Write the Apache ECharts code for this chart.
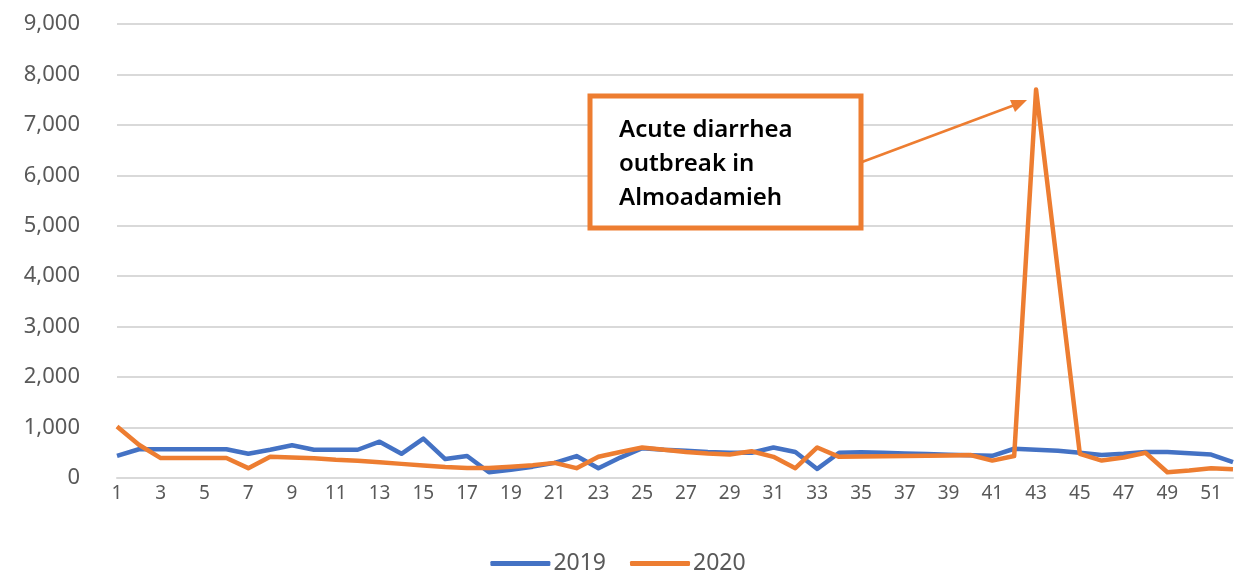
<!DOCTYPE html>
<html>
<head>
<meta charset="utf-8">
<script src="https://cdn.jsdelivr.net/npm/echarts@6/dist/echarts.min.js"></script>
<style>
html,body{margin:0;padding:0;background:#fff;}
#chart{width:1236px;height:573px;}
</style>
</head>
<body>
<div id="chart"></div>
<script>
const weeks = Array.from({length: 52}, (_, i) => String(i + 1));
const yTicks = [0, 1000, 2000, 3000, 4000, 5000, 6000, 7000, 8000, 9000];
const series2019 = [440, 570, 570, 570, 570, 570, 480, 560, 650, 560,
                    560, 560, 720, 480, 780, 375, 435, 115, 165, 225,
                    300, 435, 195, 405, 590, 560, 540, 515, 500, 500,
                    605, 515, 180, 500, 510, 500, 485, 475, 460, 450,
                    440, 580, 560, 540, 500, 455, 480, 515, 515, 490,
                    465, 315];
const series2020 = [1020, 660, 395, 395, 395, 395, 195, 420, 405, 390,
                    360, 340, 310, 280, 250, 220, 200, 200, 225, 255,
                    300, 195, 420, 515, 605, 560, 515, 485, 465, 530,
                    420, 195, 605, 420, 425, 430, 435, 440, 445, 455,
                    345, 435, 7700, 4100, 480, 345, 405, 500, 115, 150,
                    195, 175];
const annotationText = 'Acute diarrhea\noutbreak in\nAlmoadamieh';

const chart = echarts.init(document.getElementById('chart'));
const font = '"Noto Sans", "Open Sans", sans-serif';
chart.setOption({
  animation: false,
  grid: {left: 117, right: 3, top: 24, bottom: 95},
  xAxis: {
    type: 'category',
    data: weeks,
    boundaryGap: false,
    axisLine: {show: true, lineStyle: {color: '#d9d9d9', width: 2}},
    axisTick: {show: false},
    axisLabel: {interval: 1, color: '#595959', fontSize: 19, fontFamily: font, margin: 6}
  },
  yAxis: {
    type: 'value',
    min: yTicks[0],
    max: yTicks[yTicks.length - 1],
    interval: 1000,
    axisLine: {show: false},
    axisTick: {show: false},
    splitLine: {lineStyle: {color: '#d9d9d9', width: 2}},
    axisLabel: {color: '#595959', fontSize: 22, fontFamily: font, margin: 37,
      formatter: v => v.toLocaleString('en-US')}
  },
  legend: {
    top: 547,
    left: 'center',
    icon: 'roundRect',
    itemWidth: 60,
    itemHeight: 5,
    itemGap: 24,
    textStyle: {color: '#595959', fontSize: 23, fontFamily: font, padding: [0, 0, 0, -2]},
    data: ['2019', '2020']
  },
  series: [
    {name: '2019', type: 'line', data: series2019, showSymbol: false, symbol: 'none',
     lineStyle: {color: '#4472C4', width: 4.5, join: 'round'}, itemStyle: {color: '#4472C4'}},
    {name: '2020', type: 'line', data: series2020, showSymbol: false, symbol: 'none',
     lineStyle: {color: '#ED7D31', width: 4.5, join: 'round'}, itemStyle: {color: '#ED7D31'}}
  ],
  graphic: [
    {type: 'rect', shape: {x: 590, y: 96, width: 271, height: 132},
     style: {fill: '#fff', stroke: '#ED7D31', lineWidth: 5}, z: 100},
    {type: 'text', x: 619, y: 113, z: 101,
     style: {text: annotationText, fill: '#000', font: '600 24px ' + font, lineHeight: 34}},
    {type: 'line', shape: {x1: 862, y1: 162, x2: 1020, y2: 103},
     style: {stroke: '#ED7D31', lineWidth: 2.5}, z: 100},
    {type: 'polygon', shape: {points: [[1027, 100], [1010, 100], [1015, 112]]},
     style: {fill: '#ED7D31'}, z: 100}
  ]
});
</script>
</body>
</html>
